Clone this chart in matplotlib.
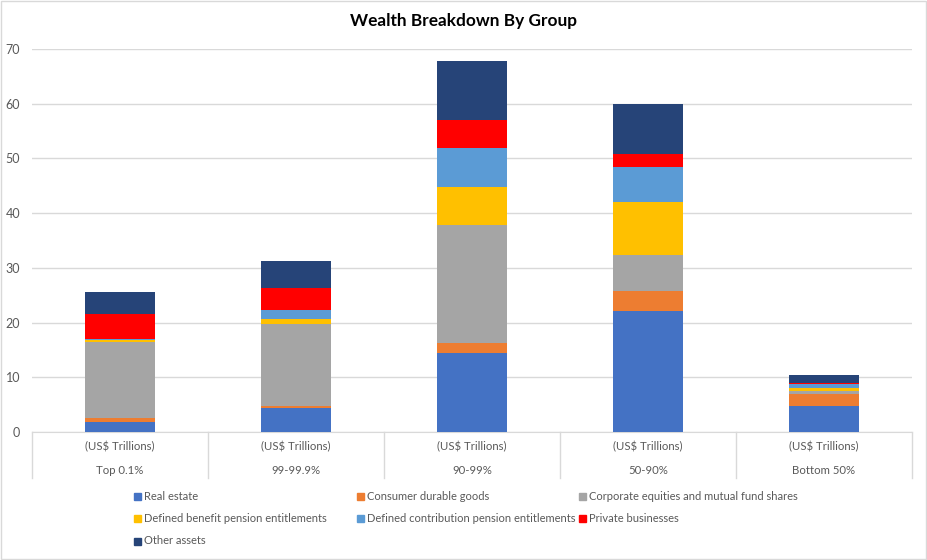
import matplotlib
matplotlib.use("Agg")
import matplotlib.pyplot as plt
from matplotlib.patches import Rectangle
import numpy as np

plt.rcParams["font.family"] = ["Lato", "DejaVu Sans"]

# values (US$ trillions)
groups = ["Top 0.1%", "99-99.9%", "90-99%", "50-90%", "Bottom 50%"]
unit_label = "(US$ Trillions)"
series_names = ["Real estate", "Consumer durable goods",
                "Corporate equities and mutual fund shares",
                "Defined benefit pension entitlements",
                "Defined contribution pension entitlements",
                "Private businesses", "Other assets"]
real_estate = [1.8, 4.4, 14.45, 22.1, 4.75]
consumer_durables = [0.8, 0.35, 1.8, 3.7, 2.2]
equities = [13.85, 15.05, 21.5, 6.6, 0.55]
db_pension = [0.35, 0.85, 7.0, 9.7, 0.55]
dc_pension = [0.25, 1.65, 7.2, 6.4, 0.75]
private_biz = [4.5, 4.1, 5.15, 2.4, 0.2]
other_assets = [4.0, 4.9, 10.7, 9.1, 1.45]
colors = ["#4472c4", "#ed7d31", "#a5a5a5", "#ffc000", "#5b9bd5", "#ff0000", "#264478"]

series = [real_estate, consumer_durables, equities, db_pension,
          dc_pension, private_biz, other_assets]

GRID = "#d9d9d9"; TXT = "#595959"

fig = plt.figure(figsize=(9.28, 5.6), dpi=100)
fig.patches.append(Rectangle((0.001, 0.002), 0.997, 0.996, transform=fig.transFigure,
                             fill=False, ec=GRID, lw=1.0))
ax = fig.add_axes([32 / 928, 1 - 432 / 560, 880 / 928, 383 / 560])

x = np.arange(len(groups))
bottom = np.zeros(len(groups))
for name, vals, c in zip(series_names, series, colors):
    ax.bar(x, vals, 0.4, bottom=bottom, color=c, label=name, zorder=3)
    bottom += np.array(vals)

ax.set_xlim(-0.5, len(groups) - 0.5)
ax.set_ylim(0, 70)
ax.set_yticks(range(0, 71, 10))
ax.yaxis.grid(True, color=GRID, lw=1.0, zorder=0)
for s in ["top", "right", "left"]:
    ax.spines[s].set_visible(False)
ax.spines["bottom"].set_color(GRID)
ax.tick_params(axis="y", length=0, labelsize=9, labelcolor=TXT, pad=8.5)
ax.set_xticks([])

# multi-level category table under the axis
for i in range(len(groups) + 1):
    ax.plot([i - 0.5, i - 0.5], [0, -8.4], color=GRID, lw=1.0, clip_on=False)
for i, g in enumerate(groups):
    ax.text(i, -2.75, unit_label, ha="center", va="center", fontsize=8.2, color=TXT)
    ax.text(i, -6.95, g, ha="center", va="center", fontsize=8.2, color=TXT)

fig.text(0.5, 1 - 21 / 560, "Wealth Breakdown By Group", ha="center", va="center",
         fontsize=12.4, fontweight="bold", color="black")

# legend, 3 columns
leg_x = [134, 357, 579]
leg_y = [496, 518, 541]
for k, (name, c) in enumerate(zip(series_names, colors)):
    px = leg_x[k % 3]; py = leg_y[k // 3]
    fig.patches.append(Rectangle((px / 928, 1 - (py + 3.5) / 560), 7 / 928, 7 / 560,
                                 transform=fig.transFigure, color=c))
    fig.text((px + 10) / 928, 1 - py / 560, name, ha="left", va="center",
             fontsize=8, color=TXT)

fig.savefig("out.png", dpi=100)
